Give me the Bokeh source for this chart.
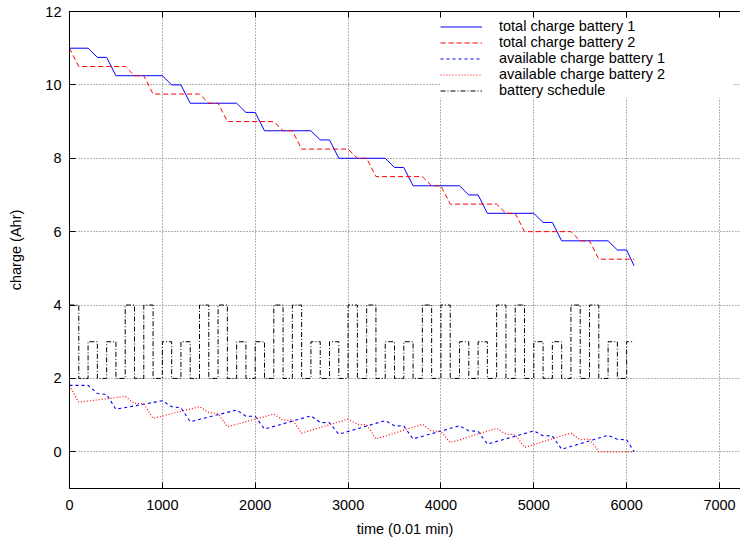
from bokeh.plotting import figure
from bokeh.models import (Range1d, LinearAxis, FixedTicker, Legend, LegendItem,
                          CustomLabelingPolicy)
from bokeh.embed import file_html
from bokeh.resources import INLINE

# ---------------- data (time in 0.01 min, charge in Ahr) ----------------
t_total1 = [0, 200, 300, 400, 500, 1000, 1100, 1200, 1300, 1800, 1900, 2000, 2100,
            2600, 2700, 2800, 2900, 3400, 3500, 3600, 3700, 4200, 4300, 4400, 4500,
            5000, 5100, 5200, 5300, 5800, 5900, 6000, 6080]
total1 = [11.0, 11.0, 10.75, 10.75, 10.25, 10.25, 10.0, 10.0, 9.5, 9.5, 9.25, 9.25, 8.75,
          8.75, 8.5, 8.5, 8.0, 8.0, 7.75, 7.75, 7.25, 7.25, 7.0, 7.0, 6.5,
          6.5, 6.25, 6.25, 5.75, 5.75, 5.5, 5.5, 5.07]

t_total2 = [0, 100, 600, 700, 800, 900, 1400, 1500, 1600, 1700, 2200, 2300, 2400, 2500,
            3000, 3100, 3200, 3300, 3800, 3900, 4000, 4100, 4600, 4700, 4800, 4900,
            5400, 5500, 5600, 5700, 6080]
total2 = [11.0, 10.5, 10.5, 10.25, 10.25, 9.75, 9.75, 9.5, 9.5, 9.0, 9.0, 8.75, 8.75, 8.25,
          8.25, 8.0, 8.0, 7.5, 7.5, 7.25, 7.25, 6.75, 6.75, 6.5, 6.5, 6.0,
          6.0, 5.75, 5.75, 5.25, 5.25]

t_avail1 = [0, 200, 300, 400, 500, 1000, 1100, 1200, 1300, 1800, 1900, 2000, 2100,
            2600, 2700, 2800, 2900, 3400, 3500, 3600, 3700, 4200, 4300, 4400, 4500,
            5000, 5100, 5200, 5300, 5800, 5900, 6000, 6080]
avail1 = [1.81, 1.81, 1.59, 1.56, 1.16, 1.39, 1.23, 1.20, 0.82, 1.14, 0.97, 0.97, 0.62,
          0.98, 0.80, 0.79, 0.48, 0.85, 0.71, 0.70, 0.35, 0.71, 0.57, 0.56, 0.21,
          0.57, 0.44, 0.43, 0.07, 0.45, 0.34, 0.33, 0.0]

t_avail2 = [0, 100, 600, 700, 800, 900, 1400, 1500, 1600, 1700, 2200, 2300, 2400, 2500,
            3000, 3100, 3200, 3300, 3800, 3900, 4000, 4100, 4600, 4700, 4800, 4900,
            5400, 5500, 5600, 5700, 6080]
avail2 = [1.80, 1.35, 1.51, 1.32, 1.31, 0.91, 1.23, 1.07, 1.04, 0.68, 1.03, 0.86, 0.87, 0.51,
          0.89, 0.75, 0.74, 0.35, 0.75, 0.57, 0.56, 0.25, 0.64, 0.48, 0.47, 0.12,
          0.51, 0.33, 0.35, 0.0, 0.0]

# battery schedule: level held from each time until the next one
sched_t = [0, 100, 200, 300, 400, 500, 600, 700, 800, 900, 1000, 1100, 1200, 1300, 1400,
           1500, 1600, 1700, 1800, 1900, 2000, 2100, 2200, 2300, 2400, 2500, 2600, 2700,
           2800, 2900, 3000, 3100, 3200, 3300, 3400, 3500, 3600, 3700, 3800, 3900, 4000,
           4100, 4200, 4300, 4400, 4500, 4600, 4700, 4800, 4900, 5000, 5100, 5200, 5300,
           5400, 5500, 5600, 5700, 5800, 5900, 6000, 6080]
sched_level = [4, 2, 3, 2, 3, 2, 4, 2, 4, 2, 3, 2, 3, 2, 4,
               2, 4, 2, 3, 2, 3, 2, 4, 2, 4, 2, 3, 2,
               3, 2, 4, 2, 4, 2, 3, 2, 3, 2, 4, 2, 4,
               2, 3, 2, 3, 2, 4, 2, 4, 2, 3, 2, 3, 2,
               4, 2, 4, 2, 3, 2, 3, 3]

x_ticks = [0, 1000, 2000, 3000, 4000, 5000, 6000, 7000]
y_ticks = [0, 2, 4, 6, 8, 10, 12]

FONT = "Liberation Sans"
FS = "14.5px"

p = figure(width=740, height=539, output_backend="svg", toolbar_location=None,
           x_range=Range1d(0, 7226), y_range=Range1d(-1, 12),
           min_border_left=69, min_border_right=0, min_border_top=11, min_border_bottom=51)
p.outline_line_color = None
p.background_fill_color = "white"
p.border_fill_color = "white"

bottom_axis = p.below[0]
left_axis = p.left[0]

no_labels = CustomLabelingPolicy(code="""
    for (const i of Array.from(indices)) { indices.unset(i) }
    return indices
""")
top_axis = LinearAxis(major_label_policy=no_labels)
p.add_layout(top_axis, "above")

for ax in (bottom_axis, top_axis):
    ax.ticker = FixedTicker(ticks=x_ticks)
left_axis.ticker = FixedTicker(ticks=y_ticks)

for ax in (bottom_axis, top_axis, left_axis):
    ax.major_tick_in = 6
    ax.major_tick_out = 0
    ax.minor_tick_in = 0
    ax.minor_tick_out = 0
    ax.axis_line_color = "black"
    ax.major_tick_line_color = "black"
    ax.major_label_text_font = FONT
    ax.major_label_text_font_size = FS
    ax.major_label_text_color = "black"
    ax.axis_label_text_font = FONT
    ax.axis_label_text_font_size = FS
    ax.axis_label_text_font_style = "normal"
    ax.axis_label_text_color = "black"

top_axis.major_label_text_font_size = "1px"
top_axis.major_label_standoff = 0
top_axis.axis_label_standoff = 0

bottom_axis.axis_label = "time (0.01 min)"
bottom_axis.major_label_standoff = 11
bottom_axis.axis_label_standoff = 8
left_axis.axis_label = "charge (Ahr)"
left_axis.major_label_standoff = 8
left_axis.axis_label_standoff = 18

p.xgrid.ticker = FixedTicker(ticks=x_ticks)
p.ygrid.ticker = FixedTicker(ticks=y_ticks)
p.grid.grid_line_color = "#6a6a6a"
p.grid.grid_line_dash = "1 2"
p.grid.grid_line_width = 1

r1 = p.line(t_total1, total1, line_color="#0000ff", line_width=1)
r2 = p.line(t_total2, total2, line_color="#ff0000", line_width=1, line_dash="5 3")
r3 = p.line(t_avail1, avail1, line_color="#0000ff", line_width=1.1, line_dash="3 3")
r4 = p.line(t_avail2, avail2, line_color="#ff0000", line_width=1.2, line_dash="1 2")
r5 = p.step(sched_t, sched_level, mode="after", line_color="black", line_width=1,
            line_dash="5 2 1 2")

legend = Legend(items=[
    LegendItem(label="total charge battery 1", renderers=[r1]),
    LegendItem(label="total charge battery 2", renderers=[r2]),
    LegendItem(label="available charge battery 1", renderers=[r3]),
    LegendItem(label="available charge battery 2", renderers=[r4]),
    LegendItem(label="battery schedule", renderers=[r5]),
], location="top_right", margin=7, padding=2, spacing=-4,
    glyph_width=42, glyph_height=15, label_height=15, label_standoff=17, label_width=234,
    label_text_font=FONT, label_text_font_size=FS, label_text_color="black",
    background_fill_color="white", background_fill_alpha=1.0, border_line_color=None)
p.add_layout(legend)

open("out.html", "w").write(file_html(p, INLINE))
